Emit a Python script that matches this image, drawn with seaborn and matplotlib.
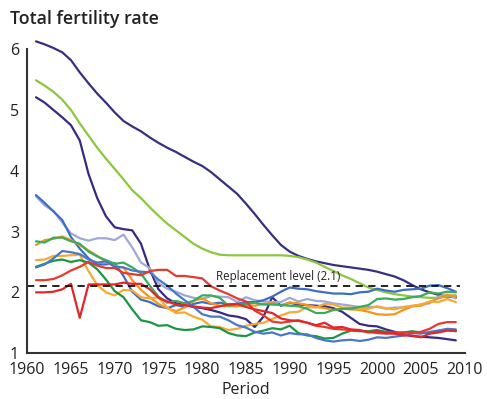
import numpy as np
import pandas as pd
import matplotlib
matplotlib.use("Agg")
import matplotlib.pyplot as plt
from matplotlib.ticker import MultipleLocator
import seaborn as sns

# =========================================================
# DATA
# =========================================================
years = list(range(1961, 2010))

top_navy = [6.13, 6.08, 6.02, 5.95, 5.82, 5.62, 5.44, 5.27, 5.12, 4.96,
            4.82, 4.73, 4.65, 4.55, 4.46, 4.38, 4.31, 4.23, 4.15, 4.08,
            3.98, 3.86, 3.74, 3.62, 3.46, 3.29, 3.11, 2.94, 2.78, 2.67,
            2.60, 2.55, 2.51, 2.48, 2.45, 2.43, 2.41, 2.39, 2.37, 2.34,
            2.30, 2.26, 2.20, 2.12, 2.05, 2.00, 1.96, 1.93, 1.92]
light_green = [5.49, 5.40, 5.30, 5.17, 5.00, 4.78, 4.58, 4.38, 4.20, 4.03,
               3.86, 3.68, 3.55, 3.40, 3.26, 3.13, 3.02, 2.91, 2.80, 2.72,
               2.66, 2.62, 2.61, 2.61, 2.61, 2.61, 2.61, 2.61, 2.61, 2.60,
               2.58, 2.54, 2.49, 2.42, 2.35, 2.28, 2.22, 2.15, 2.08, 2.04,
               2.00, 1.97, 1.95, 1.93, 1.92, 1.91, 1.91, 1.93, 1.95]
singapore = [5.21, 5.12, 5.00, 4.88, 4.75, 4.50, 3.95, 3.55, 3.25, 3.07,
             3.04, 3.02, 2.80, 2.38, 2.05, 1.90, 1.82, 1.79, 1.76, 1.74,
             1.71, 1.67, 1.62, 1.60, 1.56, 1.43, 1.60, 1.92, 1.78, 1.83,
             1.80, 1.79, 1.78, 1.77, 1.74, 1.68, 1.58, 1.48, 1.45, 1.44,
             1.39, 1.35, 1.31, 1.28, 1.27, 1.26, 1.25, 1.23, 1.21]
usa = [3.60, 3.47, 3.33, 3.19, 2.91, 2.72, 2.56, 2.46, 2.46, 2.48,
       2.27, 2.01, 1.88, 1.84, 1.77, 1.74, 1.79, 1.76, 1.81, 1.84,
       1.81, 1.83, 1.80, 1.81, 1.84, 1.84, 1.87, 1.93, 2.01, 2.08,
       2.06, 2.05, 2.02, 2.00, 1.98, 1.98, 1.97, 2.00, 2.01, 2.06,
       2.03, 2.01, 2.04, 2.05, 2.06, 2.11, 2.12, 2.07, 2.01]
australia = [3.58, 3.43, 3.34, 3.15, 2.97, 2.89, 2.85, 2.89, 2.89, 2.86,
             2.95, 2.74, 2.49, 2.40, 2.15, 2.06, 2.01, 1.95, 1.91, 1.89,
             1.94, 1.93, 1.92, 1.84, 1.92, 1.87, 1.85, 1.84, 1.84, 1.91,
             1.85, 1.89, 1.86, 1.85, 1.82, 1.80, 1.78, 1.76, 1.76, 1.76,
             1.73, 1.75, 1.75, 1.77, 1.80, 1.82, 1.93, 1.96, 1.90]
japan = [2.00, 2.00, 2.01, 2.05, 2.14, 1.58, 2.13, 2.13, 2.13, 2.13,
         2.16, 2.14, 2.14, 2.05, 1.91, 1.85, 1.80, 1.79, 1.77, 1.75,
         1.74, 1.77, 1.80, 1.81, 1.76, 1.72, 1.69, 1.66, 1.57, 1.54,
         1.53, 1.50, 1.46, 1.50, 1.42, 1.43, 1.39, 1.38, 1.34, 1.36,
         1.33, 1.32, 1.29, 1.29, 1.26, 1.32, 1.34, 1.37, 1.37]
italy = [2.41, 2.46, 2.56, 2.68, 2.66, 2.63, 2.54, 2.49, 2.51, 2.42,
         2.41, 2.36, 2.34, 2.33, 2.21, 2.11, 1.98, 1.87, 1.76, 1.64,
         1.60, 1.60, 1.54, 1.46, 1.42, 1.35, 1.32, 1.34, 1.29, 1.33,
         1.31, 1.31, 1.25, 1.21, 1.19, 1.21, 1.22, 1.20, 1.22, 1.26,
         1.25, 1.27, 1.29, 1.33, 1.32, 1.35, 1.37, 1.40, 1.39]
germany = [2.42, 2.47, 2.52, 2.54, 2.50, 2.53, 2.49, 2.38, 2.21, 2.02,
           1.92, 1.72, 1.54, 1.51, 1.45, 1.46, 1.40, 1.38, 1.39, 1.44,
           1.43, 1.41, 1.33, 1.29, 1.28, 1.34, 1.37, 1.41, 1.39, 1.45,
           1.33, 1.29, 1.28, 1.24, 1.25, 1.32, 1.37, 1.36, 1.36, 1.38,
           1.35, 1.34, 1.34, 1.36, 1.34, 1.33, 1.37, 1.38, 1.36]
france = [2.84, 2.82, 2.90, 2.90, 2.84, 2.80, 2.67, 2.59, 2.53, 2.47,
          2.49, 2.41, 2.31, 2.11, 1.93, 1.83, 1.86, 1.82, 1.86, 1.95,
          1.95, 1.91, 1.78, 1.80, 1.81, 1.83, 1.80, 1.80, 1.79, 1.78,
          1.77, 1.73, 1.66, 1.66, 1.71, 1.73, 1.73, 1.76, 1.79, 1.89,
          1.90, 1.88, 1.89, 1.92, 1.94, 2.00, 1.98, 2.01, 2.00]
uk = [2.78, 2.86, 2.88, 2.92, 2.86, 2.78, 2.69, 2.60, 2.50, 2.43,
      2.41, 2.20, 2.04, 1.92, 1.81, 1.74, 1.69, 1.75, 1.86, 1.90,
      1.82, 1.78, 1.77, 1.77, 1.79, 1.78, 1.81, 1.82, 1.79, 1.83,
      1.82, 1.79, 1.76, 1.74, 1.71, 1.73, 1.72, 1.71, 1.68, 1.64,
      1.63, 1.64, 1.71, 1.77, 1.78, 1.84, 1.90, 1.96, 1.94]
denmark = [2.53, 2.54, 2.60, 2.60, 2.61, 2.62, 2.35, 2.12, 2.00, 1.95,
           2.04, 2.03, 1.92, 1.90, 1.92, 1.75, 1.66, 1.67, 1.60, 1.55,
           1.44, 1.43, 1.38, 1.40, 1.45, 1.48, 1.50, 1.56, 1.62, 1.67,
           1.68, 1.76, 1.75, 1.81, 1.80, 1.75, 1.75, 1.72, 1.73, 1.77,
           1.74, 1.72, 1.76, 1.78, 1.80, 1.85, 1.84, 1.89, 1.84]
greece = [2.20, 2.20, 2.22, 2.28, 2.36, 2.42, 2.50, 2.44, 2.40, 2.40,
          2.32, 2.30, 2.28, 2.35, 2.37, 2.37, 2.27, 2.27, 2.25, 2.23,
          2.10, 2.03, 1.97, 1.90, 1.85, 1.70, 1.62, 1.52, 1.50, 1.52,
          1.54, 1.50, 1.45, 1.43, 1.40, 1.39, 1.38, 1.37, 1.35, 1.33,
          1.32, 1.33, 1.34, 1.34, 1.35, 1.40, 1.48, 1.51, 1.51]

REPLACEMENT = 2.1

series = {
    "top_navy": (top_navy, "#35307f"),
    "light_green": (light_green, "#8dc63f"),
    "singapore": (singapore, "#362b84"),
    "australia": (australia, "#a0a9d3"),
    "usa": (usa, "#3d6ec6"),
    "uk": (uk, "#f7941d"),
    "denmark": (denmark, "#f6a935"),
    "france": (france, "#3aab5c"),
    "germany": (germany, "#1a9646"),
    "italy": (italy, "#4a78c8"),
    "greece": (greece, "#e63a2c"),
    "japan": (japan, "#e3262a"),
}

df = pd.concat(
    [pd.DataFrame({"year": years, "tfr": vals, "country": name})
     for name, (vals, _) in series.items()],
    ignore_index=True,
)
palette = {name: col for name, (_, col) in series.items()}

# =========================================================
# PLOT
# =========================================================
sns.set_style("white")
plt.rcParams["font.family"] = ["Open Sans", "DejaVu Sans"]

fig = plt.figure(figsize=(4.87, 3.99), dpi=100)
ax = fig.add_axes([0.056, 0.115, 0.898, 0.792])

sns.lineplot(data=df, x="year", y="tfr", hue="country", palette=palette,
             linewidth=1.6, legend=False, ax=ax)

ax.axhline(REPLACEMENT, xmin=0, xmax=0.99, color="#111111",
           linestyle=(0, (4, 3)), linewidth=1.3)
ax.text(1981.6, REPLACEMENT + 0.05, "Replacement level (2.1)",
        fontsize=8.3, color="#222222", va="bottom", ha="left")

ax.set_xlim(1960, 2010)
ax.set_ylim(1, 6.2)
ax.set_xticks(range(1960, 2011, 5))
ax.xaxis.set_minor_locator(MultipleLocator(1))
ax.set_yticks([1, 2, 3, 4, 5, 6])

for s in ["top", "right"]:
    ax.spines[s].set_visible(False)
for s in ["left", "bottom"]:
    ax.spines[s].set_color("#333333")
    ax.spines[s].set_linewidth(1.5)
ax.spines["left"].set_bounds(1, 6)

ax.tick_params(axis="x", which="both", direction="in", length=8, width=1.1,
               color="#333333", labelsize=11.5, labelcolor="#222222", pad=6.5)
ax.tick_params(axis="y", which="major", direction="in", length=8, width=1.5,
               color="#333333", labelsize=11.5, labelcolor="#222222", pad=6)

ax.set_xlabel("Period", fontsize=11.5, color="#222222", labelpad=3)
ax.set_ylabel("")
fig.text(0.02, 0.953, "Total fertility rate", fontsize=12.8,
         fontweight="semibold", color="#222222", ha="left", va="center")

fig.savefig("out.png", dpi=100, facecolor="white")
